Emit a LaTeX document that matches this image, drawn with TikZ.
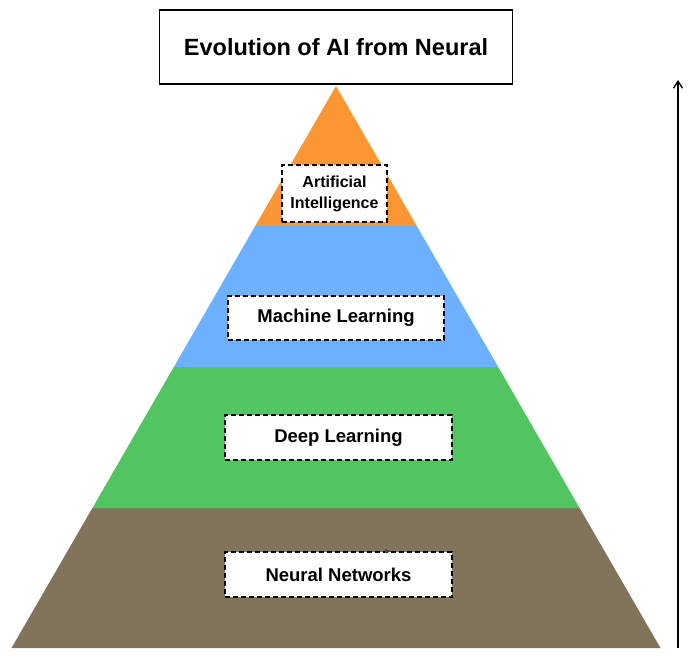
\documentclass[tikz,border=0pt]{standalone}
\usepackage{fontspec}
\setmainfont{Liberation Sans}
\usetikzlibrary{arrows.meta}
\definecolor{aiorange}{RGB}{251,150,52}
\definecolor{mlblue}{RGB}{108,176,255}
\definecolor{dlgreen}{RGB}{82,196,98}
\definecolor{nnbrown}{RGB}{130,116,90}
\definecolor{tipgray}{RGB}{70,72,80}
\tikzset{
  layerlabel/.style={draw=black, dashed, dash pattern=on 5pt off 3pt, line width=1.4pt, fill=white,
    inner sep=0pt, align=center, font=\bfseries\fontsize{18.5}{22}\selectfont},
  titlebox/.style={draw=black, line width=1.5pt, fill=white, inner sep=0pt,
    minimum width=353pt, minimum height=74pt, font=\bfseries\fontsize{23.5}{28}\selectfont}
}
\begin{document}
\begin{tikzpicture}[x=1pt,y=-1pt]
\useasboundingbox (0,0) rectangle (690,657);
% pyramid coordinates
\coordinate (apex) at (336,86);
\coordinate (l1) at (255.2,226); \coordinate (r1) at (416.8,226);
\coordinate (l2) at (173.8,367); \coordinate (r2) at (498.2,367);
\coordinate (l3) at (92.4,508);  \coordinate (r3) at (579.6,508);
\coordinate (l4) at (11.5,648);  \coordinate (r4) at (660.5,648);
\fill[nnbrown] (l3) -- (r3) -- (r4) -- (l4) -- cycle;
\fill[dlgreen] (l2) -- (r2) -- (r3) -- (l3) -- cycle;
\fill[mlblue] (l1) -- (r1) -- (r2) -- (l2) -- cycle;
\fill[aiorange] (apex) -- (r1) -- (l1) -- cycle;
% title
\node[titlebox] (title) at (336,47) {Evolution of AI from Neural};
% labels
\node[layerlabel, minimum width=105pt, minimum height=57pt, font=\bfseries\fontsize{16}{21}\selectfont] (ai) at (334.5,193.5) {Artificial\\Intelligence};
\node[layerlabel, minimum width=216pt, minimum height=44pt] (ml) at (336,318) {Machine Learning};
\node[layerlabel, minimum width=227pt, minimum height=45pt] (dl) at (338.5,437.5) {Deep Learning};
\node[layerlabel, minimum width=227pt, minimum height=45pt] (nn) at (338.5,574.5) {Neural Networks};
% small stray arrow tip
\fill[tipgray] (385,549) -- (392,551.5) -- (385,553) -- cycle;
% side arrow
\coordinate (arrbot) at (678,648);
\coordinate (arrtop) at (678,80);
\draw[line width=1.3pt, -{Straight Barb[length=7pt,width=9pt]}] (arrbot) -- (arrtop);
\end{tikzpicture}
\end{document}
